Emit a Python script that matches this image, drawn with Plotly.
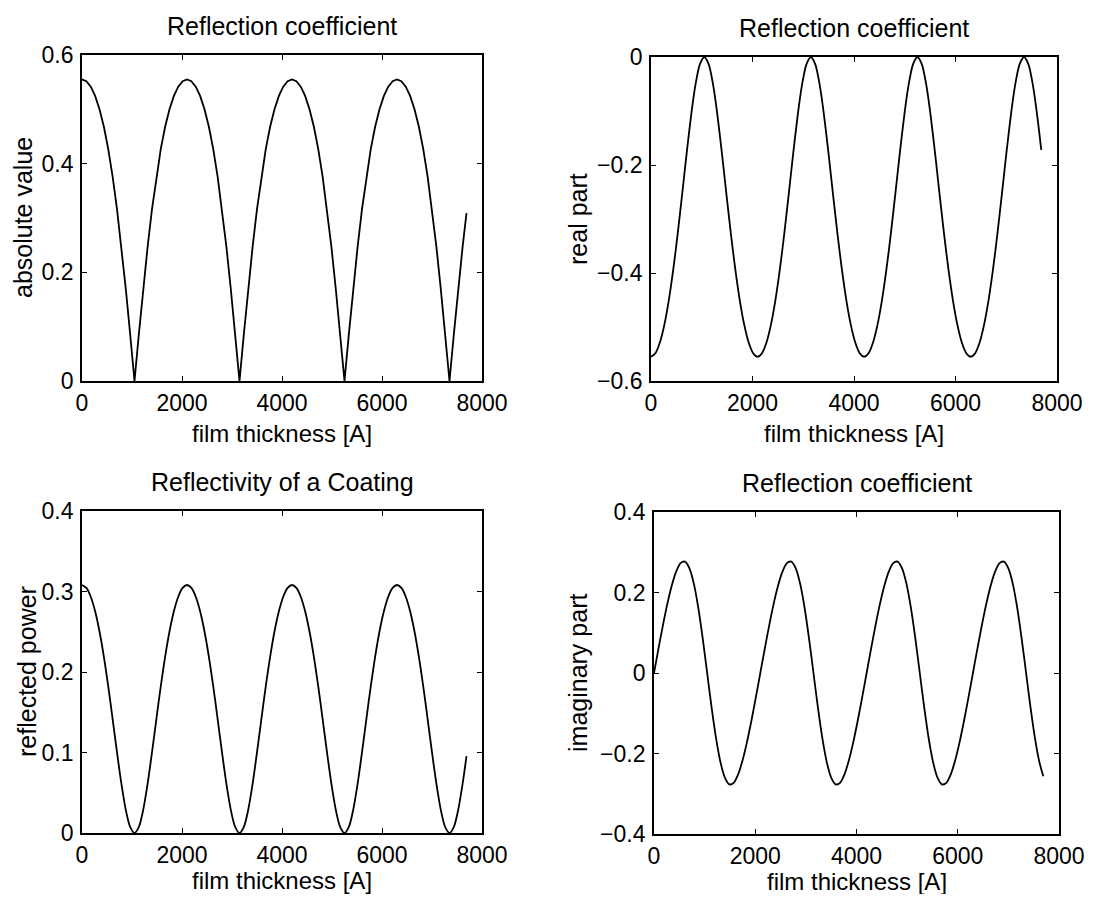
import plotly.graph_objects as go

# ---------------- data ----------------
thickness = [
    0, 87.5, 175, 262.5, 350, 437.5, 525, 612.5, 700, 787.5, 875, 962.5,
    1050, 1137.5, 1225, 1312.5, 1400, 1487.5, 1575, 1662.5, 1750, 1837.5, 1925, 2012.5,
    2100, 2187.5, 2275, 2362.5, 2450, 2537.5, 2625, 2712.5, 2800, 2887.5, 2975, 3062.5,
    3150, 3237.5, 3325, 3412.5, 3500, 3587.5, 3675, 3762.5, 3850, 3937.5, 4025, 4112.5,
    4200, 4287.5, 4375, 4462.5, 4550, 4637.5, 4725, 4812.5, 4900, 4987.5, 5075, 5162.5,
    5250, 5337.5, 5425, 5512.5, 5600, 5687.5, 5775, 5862.5, 5950, 6037.5, 6125, 6212.5,
    6300, 6387.5, 6475, 6562.5, 6650, 6737.5, 6825, 6912.5, 7000, 7087.5, 7175, 7262.5,
    7350, 7437.5, 7525, 7612.5, 7690,
]

abs_value = [
    0.5550, 0.5517, 0.5418, 0.5248, 0.5003, 0.4679, 0.4267, 0.3763, 0.3165, 0.2474, 0.1702, 0.0868,
    0.0000, 0.0868, 0.1702, 0.2474, 0.3165, 0.3763, 0.4267, 0.4679, 0.5003, 0.5248, 0.5418, 0.5517,
    0.5550, 0.5517, 0.5418, 0.5248, 0.5003, 0.4679, 0.4267, 0.3763, 0.3165, 0.2474, 0.1702, 0.0868,
    0.0000, 0.0868, 0.1702, 0.2474, 0.3165, 0.3763, 0.4267, 0.4679, 0.5003, 0.5248, 0.5418, 0.5517,
    0.5550, 0.5517, 0.5418, 0.5248, 0.5003, 0.4679, 0.4267, 0.3763, 0.3165, 0.2474, 0.1702, 0.0868,
    0.0000, 0.0868, 0.1702, 0.2474, 0.3165, 0.3763, 0.4267, 0.4679, 0.5003, 0.5248, 0.5418, 0.5517,
    0.5550, 0.5517, 0.5418, 0.5248, 0.5003, 0.4679, 0.4267, 0.3763, 0.3165, 0.2474, 0.1702, 0.0868,
    0.0000, 0.0868, 0.1702, 0.2474, 0.3091,
]

real_part = [
    -0.5550, -0.5485, -0.5288, -0.4961, -0.4510, -0.3944, -0.3281, -0.2552, -0.1805, -0.1103, -0.0522, -0.0136,
    0.0000, -0.0136, -0.0522, -0.1103, -0.1805, -0.2552, -0.3281, -0.3944, -0.4510, -0.4961, -0.5288, -0.5485,
    -0.5550, -0.5485, -0.5288, -0.4961, -0.4510, -0.3944, -0.3281, -0.2552, -0.1805, -0.1103, -0.0522, -0.0136,
    0.0000, -0.0136, -0.0522, -0.1103, -0.1805, -0.2552, -0.3281, -0.3944, -0.4510, -0.4961, -0.5288, -0.5485,
    -0.5550, -0.5485, -0.5288, -0.4961, -0.4510, -0.3944, -0.3281, -0.2552, -0.1805, -0.1103, -0.0522, -0.0136,
    0.0000, -0.0136, -0.0522, -0.1103, -0.1805, -0.2552, -0.3281, -0.3944, -0.4510, -0.4961, -0.5288, -0.5485,
    -0.5550, -0.5485, -0.5288, -0.4961, -0.4510, -0.3944, -0.3281, -0.2552, -0.1805, -0.1103, -0.0522, -0.0136,
    0.0000, -0.0136, -0.0522, -0.1103, -0.1721,
]

imag_part = [
    0.0000, 0.0601, 0.1179, 0.1710, 0.2166, 0.2517, 0.2729, 0.2766, 0.2600, 0.2215, 0.1620, 0.0857,
    0.0000, -0.0857, -0.1620, -0.2215, -0.2600, -0.2766, -0.2729, -0.2517, -0.2166, -0.1710, -0.1179, -0.0601,
    0.0000, 0.0601, 0.1179, 0.1710, 0.2166, 0.2517, 0.2729, 0.2766, 0.2600, 0.2215, 0.1620, 0.0857,
    0.0000, -0.0857, -0.1620, -0.2215, -0.2600, -0.2766, -0.2729, -0.2517, -0.2166, -0.1710, -0.1179, -0.0601,
    0.0000, 0.0601, 0.1179, 0.1710, 0.2166, 0.2517, 0.2729, 0.2766, 0.2600, 0.2215, 0.1620, 0.0857,
    0.0000, -0.0857, -0.1620, -0.2215, -0.2600, -0.2766, -0.2729, -0.2517, -0.2166, -0.1710, -0.1179, -0.0601,
    0.0000, 0.0601, 0.1179, 0.1710, 0.2166, 0.2517, 0.2729, 0.2766, 0.2600, 0.2215, 0.1620, 0.0857,
    0.0000, -0.0857, -0.1620, -0.2215, -0.2567,
]

reflected_power = [
    0.3081, 0.3044, 0.2935, 0.2754, 0.2503, 0.2189, 0.1821, 0.1416, 0.1002, 0.0612, 0.0290, 0.0075,
    0.0000, 0.0075, 0.0290, 0.0612, 0.1002, 0.1416, 0.1821, 0.2189, 0.2503, 0.2754, 0.2935, 0.3044,
    0.3081, 0.3044, 0.2935, 0.2754, 0.2503, 0.2189, 0.1821, 0.1416, 0.1002, 0.0612, 0.0290, 0.0075,
    0.0000, 0.0075, 0.0290, 0.0612, 0.1002, 0.1416, 0.1821, 0.2189, 0.2503, 0.2754, 0.2935, 0.3044,
    0.3081, 0.3044, 0.2935, 0.2754, 0.2503, 0.2189, 0.1821, 0.1416, 0.1002, 0.0612, 0.0290, 0.0075,
    0.0000, 0.0075, 0.0290, 0.0612, 0.1002, 0.1416, 0.1821, 0.2189, 0.2503, 0.2754, 0.2935, 0.3044,
    0.3081, 0.3044, 0.2935, 0.2754, 0.2503, 0.2189, 0.1821, 0.1416, 0.1002, 0.0612, 0.0290, 0.0075,
    0.0000, 0.0075, 0.0290, 0.0612, 0.0955,
]

x_ticks = [0, 2000, 4000, 6000, 8000]
titles = ["Reflection coefficient", "Reflection coefficient",
          "Reflectivity of a Coating", "Reflection coefficient"]
y_labels = ["absolute value", "real part", "reflected power", "imaginary part"]
x_label = "film thickness [A]"

# ---------------- layout ----------------
OFF = 8                      # the page body adds an 8px margin around the figure
W, H = 1096 - 2 * OFF, 902 - 2 * OFF
FONT = "Liberation Sans, Arial, Helvetica, sans-serif"
FS_TICK = 23
FS_TEXT = 25
FS_XLAB = 24

panels = [
    # (series, yrange, dtick, box in screen px [x0, x1, ytop, ybottom],
    #  ylabel x center px, xlabel y center px, line shape)
    (abs_value,       [0, 0.6],    0.2, [82, 482, 55, 381],   23, 433, "linear"),
    (real_part,       [-0.6, 0],   0.2, [651, 1057, 57, 381], 578, 433, "spline"),
    (reflected_power, [0, 0.4],    0.1, [82, 482, 511, 833],  27, 880, "spline"),
    (imag_part,       [-0.4, 0.4], 0.2, [654, 1059, 512, 834], 578, 881, "spline"),
]


def px(v):
    return (v - OFF) / W


def py(v):
    return 1 - (v - OFF) / H


fig = go.Figure()
annotations = []
layout = {}
for i, (ys, yr, dt, box, ylx, xly, shape) in enumerate(panels):
    k = "" if i == 0 else str(i + 1)
    x0, x1, yt, yb = box
    line = dict(color="black", width=1.8, shape=shape)
    if shape == "spline":
        line["smoothing"] = 0.8
    fig.add_trace(go.Scatter(
        x=thickness, y=ys, mode="lines", line=line,
        xaxis="x" + k, yaxis="y" + k, showlegend=False, hoverinfo="skip",
    ))
    common = dict(
        showgrid=False, zeroline=False, showline=True, linecolor="black",
        linewidth=1.8, mirror="ticks", ticks="inside", ticklen=5,
        tickwidth=1.2, tickcolor="black", automargin=False,
        tickfont=dict(family=FONT, size=FS_TICK, color="black"),
    )
    layout["xaxis" + k] = dict(
        common, domain=[px(x0), px(x1)], range=[0, 8000],
        tickvals=x_ticks, ticktext=[str(v) for v in x_ticks],
        anchor="y" + k, ticklabelstandoff=0,
    )
    layout["yaxis" + k] = dict(
        common, domain=[py(yb), py(yt)], range=yr, dtick=dt,
        tick0=0, anchor="x" + k, ticklabelstandoff=2,
    )
    cx = (x0 + x1) / 2
    annotations.append(dict(
        text=titles[i], x=px(cx), y=py(yt - 29), xref="paper", yref="paper",
        xanchor="center", yanchor="middle", showarrow=False,
        font=dict(family=FONT, size=FS_TEXT, color="black"),
    ))
    annotations.append(dict(
        text=x_label, x=px(cx), y=py(xly), xref="paper", yref="paper",
        xanchor="center", yanchor="middle", showarrow=False, borderpad=0,
        font=dict(family=FONT, size=FS_XLAB, color="black"),
    ))
    annotations.append(dict(
        text=y_labels[i], x=px(ylx), y=py((yt + yb) / 2), xref="paper", yref="paper",
        xanchor="center", yanchor="middle", showarrow=False, textangle=-90,
        font=dict(family=FONT, size=FS_TEXT, color="black"),
    ))

fig.update_layout(
    width=W, height=H, margin=dict(l=0, r=0, t=0, b=0, autoexpand=False),
    paper_bgcolor="white", plot_bgcolor="white",
    annotations=annotations, **layout,
)

fig.write_html("out.html")
